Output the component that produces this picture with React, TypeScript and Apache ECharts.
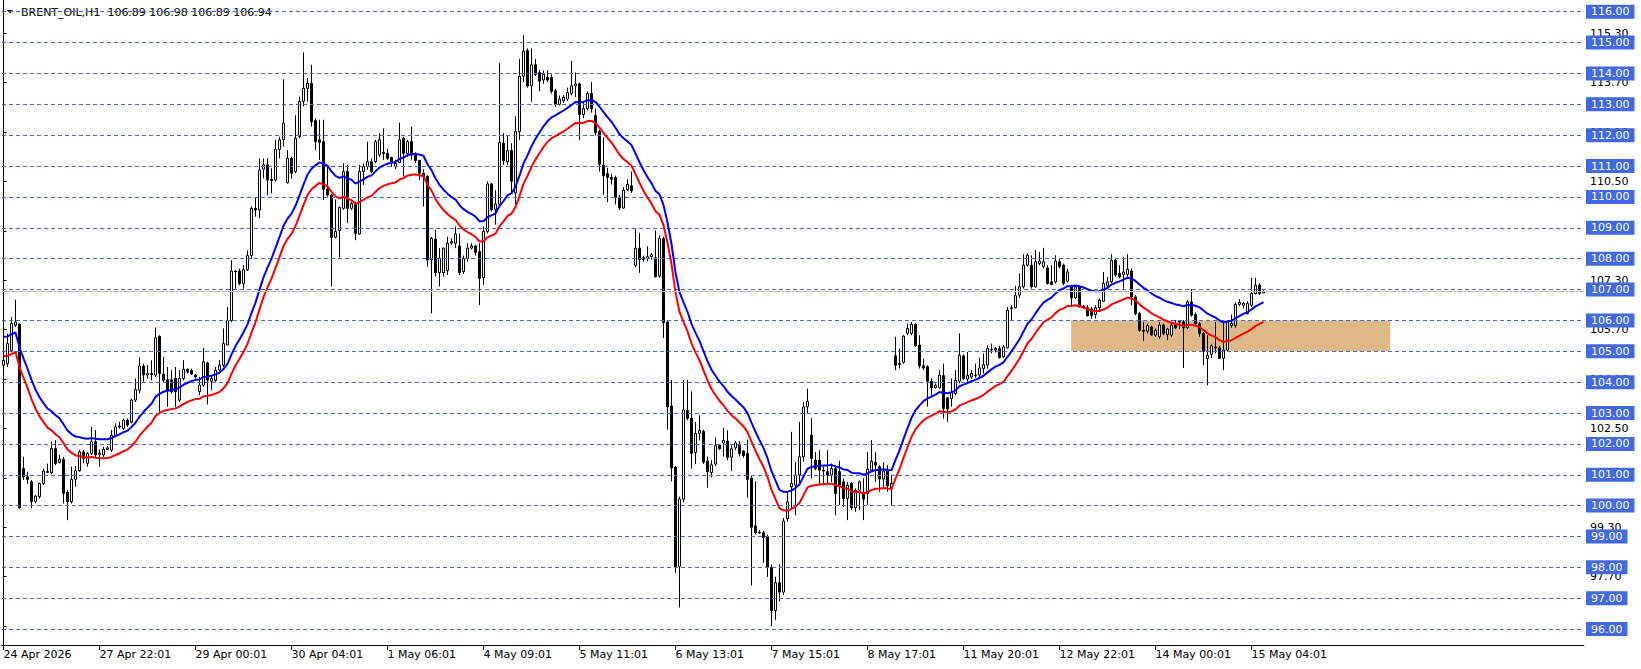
import React, { useEffect, useRef } from "react";
import * as echarts from "echarts";

// ---- data (H1 bars, index 0 = first visible bar) ----
const barOpen = [
  104.55,104.6,105.03,105.84,105.88,101.2,100.93,100.77,100.13,100.29,
  100.72,101.1,101.07,101.85,101.4,101.5,100.43,100.13,100.85,101.13,
  101.74,101.37,101.69,102.07,101.66,101.64,101.82,101.8,102.28,102.55,
  102.5,102.77,102.71,103.42,103.74,104.52,104.23,104.28,104.23,105.48,
  104.26,104.08,104.08,104.12,103.42,104.12,104.42,104.38,104.23,103.69,
  103.9,104.62,104.03,104.06,104.39,104.55,105.2,106.0,107.6,107.6,
  107.19,107.64,108.1,109.63,109.58,110.9,111.04,110.57,110.55,111.54,
  111.85,110.46,111.25,110.82,111.95,113.1,113.52,113.68,112.47,111.85,
  111.79,110.25,110.06,108.69,108.91,109.63,110.82,109.63,109.79,108.8,
  110.82,110.98,111.14,111.14,111.36,111.44,111.41,111.28,110.98,111.11,
  111.9,111.41,111.79,111.36,111.18,110.77,110.66,107.96,108.63,107.55,
  107.55,107.61,108.5,108.5,108.41,107.58,108.01,108.34,108.41,108.23,
  107.39,108.88,110.42,109.6,109.77,111.74,111.14,111.5,110.13,112.12,
  113.91,114.74,113.6,114.28,114.03,113.79,113.87,113.87,113.44,113.0,
  113.11,113.17,113.35,113.6,113.66,112.67,112.86,113.35,112.64,112.12,
  111.03,110.75,110.63,110.63,109.99,109.64,110.23,110.36,107.78,108.34,
  108.03,108.01,108.07,108.03,107.44,108.65,105.95,103.23,101.25,98.03,
  100.21,103.08,102.83,101.72,102.34,102.4,101.44,101.07,101.35,101.96,
  102.03,102.09,101.57,101.87,101.99,101.77,101.69,100.89,99.34,99.14,
  99.12,98.99,98.0,96.6,97.5,97.2,99.58,100.61,100.66,100.99,
  101.58,103.2,102.28,101.47,101.47,101.15,101.1,100.99,101.2,101.1,
  100.77,100.23,100.72,99.93,100.5,100.43,100.39,101.15,101.4,101.26,
  100.86,101.15,100.56,104.85,104.6,104.64,105.58,105.58,105.87,105.2,
  104.53,104.5,104.03,103.82,103.82,104.21,103.49,103.47,103.63,104.03,
  104.85,104.1,104.17,104.21,104.23,104.44,104.55,105.04,105.04,105.09,
  104.82,105.11,106.39,106.41,106.82,107.09,107.79,107.79,107.09,107.84,
  107.74,107.7,107.25,107.25,107.9,107.79,107.27,107.09,106.73,107.09,
  106.47,106.41,106.37,106.19,106.41,106.62,107.12,107.25,107.95,107.52,
  107.49,107.49,107.6,106.76,106.22,105.68,105.65,105.79,105.52,105.47,
  105.85,105.54,105.52,105.87,105.98,105.95,105.76,106.6,106.19,105.9,
  105.58,104.77,104.9,105.11,105.11,104.77,105.04,105.83,105.83,106.52,
  106.49,106.22,106.49,106.87,107.14,106.89,
];
const barHigh = [
  104.8,105.57,106.11,106.67,105.9,101.58,101.1,100.83,100.34,100.74,
  101.2,101.36,102.07,102.12,101.64,101.58,100.5,101.26,101.28,101.8,
  101.8,101.74,102.55,102.45,101.82,101.9,101.93,102.45,102.66,102.71,
  102.82,102.82,103.47,104.12,104.8,104.6,104.55,104.71,105.77,105.52,
  104.82,104.49,104.39,104.49,104.39,104.71,104.44,104.44,104.26,104.17,
  105.11,104.66,104.2,104.49,104.71,105.74,106.44,107.95,107.62,107.68,
  107.79,108.27,109.7,109.96,111.25,111.25,111.25,110.93,111.85,111.95,
  113.81,111.52,111.3,112.65,113.25,114.68,113.85,114.28,112.55,112.5,
  112.5,110.98,110.1,109.92,109.69,111.09,111.04,109.85,109.85,111.04,
  111.09,111.79,111.25,111.85,112.06,112.22,111.57,111.3,111.2,112.41,
  111.95,111.85,112.28,111.44,111.2,110.9,110.7,108.7,108.93,108.34,
  108.36,108.71,108.66,109.04,108.82,108.1,108.5,108.5,108.45,108.5,
  109.04,110.5,110.45,110.22,114.33,112.06,111.99,111.74,112.61,114.47,
  115.24,114.81,114.81,114.47,114.12,114.1,114.1,113.97,113.5,113.29,
  113.3,113.54,114.41,114.03,113.7,113.04,113.42,113.72,112.86,112.18,
  111.93,110.94,110.75,110.69,110.07,110.32,110.57,110.82,108.98,108.84,
  108.1,108.4,108.18,108.92,108.75,108.71,105.99,104.07,101.28,100.29,
  104.07,104.07,103.7,102.71,102.93,102.46,101.59,101.47,102.21,102.0,
  102.52,102.44,101.96,102.1,102.09,101.8,102.14,100.97,100.79,99.2,
  99.18,99.06,98.1,97.7,98.1,99.6,100.45,102.39,101.42,102.71,
  103.36,103.79,102.84,101.74,101.8,101.28,101.8,101.36,101.31,101.45,
  100.88,100.77,100.77,100.56,100.82,100.88,101.74,102.12,101.74,101.31,
  101.4,101.31,101.0,105.47,105.09,105.52,105.9,105.95,105.9,105.52,
  104.77,104.55,104.12,103.96,104.39,104.6,103.52,104.12,104.39,105.58,
  104.9,104.98,104.39,104.6,104.79,104.93,105.2,105.25,105.14,105.18,
  105.2,106.44,106.49,107.12,107.52,108.14,108.17,108.11,108.28,108.22,
  108.35,107.79,107.79,108.11,107.98,107.84,107.68,107.14,107.14,107.14,
  106.5,106.49,106.44,106.49,106.71,107.57,107.41,108.14,108.03,107.79,
  108.06,108.14,107.68,106.82,106.28,105.95,105.9,105.83,105.74,105.95,
  105.9,105.76,105.9,106.01,105.98,106.01,106.66,107.01,106.26,105.95,
  105.63,105.52,105.22,105.95,105.18,105.95,106.01,106.19,106.58,106.69,
  106.6,106.62,107.38,107.38,107.2,106.98,
];
const barLow = [
  103.7,104.49,104.98,105.79,99.9,100.83,100.7,99.91,100.07,100.23,
  100.67,101.05,101.02,101.31,101.37,100.07,99.53,100.07,100.61,101.1,
  101.37,101.26,101.64,101.58,101.26,101.58,101.8,101.74,102.23,102.5,
  102.45,102.55,102.66,103.36,103.63,104.01,104.12,104.06,104.17,103.04,
  104.01,103.2,103.63,103.2,103.36,104.06,104.28,104.23,104.12,103.58,
  103.85,103.28,103.74,104.01,104.28,104.49,105.2,105.95,107.03,107.14,
  107.03,107.6,108.0,109.36,109.31,110.6,110.06,110.12,110.5,111.25,
  111.63,110.43,110.6,110.77,111.9,112.93,113.09,112.28,111.52,111.2,
  109.9,110.01,107.1,108.66,108.04,109.58,109.15,109.58,108.6,108.77,
  110.39,110.88,110.77,111.09,111.3,111.2,111.2,110.98,110.9,111.09,
  110.66,111.3,111.2,111.1,110.55,109.69,107.74,106.23,107.42,107.1,
  107.42,107.47,108.45,108.34,107.47,107.5,107.9,108.3,108.1,106.5,
  107.15,108.82,109.53,109.1,109.74,111.04,111.03,110.1,109.76,111.84,
  113.72,113.54,113.08,113.91,113.42,113.66,113.72,113.35,112.92,112.96,
  113.05,113.11,113.29,113.23,111.84,112.55,112.8,112.73,111.99,110.82,
  110.07,109.83,110.4,109.76,109.58,109.61,110.2,110.13,107.72,107.54,
  107.9,107.91,107.97,107.39,107.39,105.43,102.46,100.79,97.82,96.7,
  100.11,102.77,101.2,101.35,102.11,101.35,100.58,100.91,101.28,101.8,
  101.59,101.47,101.12,101.8,101.59,101.55,100.26,97.41,99.06,99.08,
  98.15,97.69,96.1,96.3,96.9,97.1,99.48,99.91,99.69,100.66,
  101.42,102.98,100.88,101.15,100.66,100.66,100.66,100.77,99.69,100.02,
  99.96,99.53,99.85,99.8,99.85,99.53,100.02,101.12,100.77,100.45,
  100.61,100.45,100.02,104.39,104.44,104.6,105.52,105.52,105.14,104.44,
  104.39,103.2,103.52,103.79,103.79,102.82,102.71,103.2,103.58,103.96,
  104.06,104.01,104.1,104.14,104.17,104.28,104.44,104.93,104.96,104.77,
  104.77,105.09,105.98,106.39,106.73,107.03,107.74,107.03,107.06,107.79,
  107.68,107.16,107.14,107.2,107.68,107.14,107.23,106.44,106.69,106.41,
  106.37,106.12,106.06,106.06,106.33,106.6,107.09,107.2,107.41,107.36,
  107.03,107.41,106.49,106.17,105.63,105.33,105.58,105.5,105.47,105.41,
  105.52,105.36,105.47,105.72,105.72,104.46,105.72,106.12,105.87,105.47,
  104.55,103.9,104.79,104.93,104.75,104.39,104.98,105.76,105.76,106.47,
  106.39,106.19,106.44,106.84,106.82,106.89,
];
const barClose = [
  104.71,105.25,105.9,105.95,99.93,100.93,100.85,100.13,100.31,100.72,
  101.12,101.08,101.85,101.37,101.5,100.4,100.13,100.85,101.13,101.74,
  101.53,101.69,102.07,101.64,101.7,101.82,101.87,102.28,102.55,102.58,
  102.77,102.61,103.42,103.76,104.52,104.23,104.28,104.25,105.44,104.28,
  104.06,103.74,103.69,103.69,104.12,104.42,104.33,104.26,104.17,103.9,
  104.66,104.06,104.12,104.39,104.55,105.25,106.0,107.6,107.57,107.19,
  107.64,108.1,109.63,109.58,110.87,111.04,110.55,110.53,111.54,111.85,
  112.39,111.25,110.77,111.9,113.09,113.52,113.68,112.44,111.79,111.76,
  110.25,110.06,108.69,108.88,109.66,110.82,109.63,109.79,108.82,110.82,
  110.98,111.14,110.82,111.79,111.85,111.4,111.25,111.09,111.09,111.85,
  111.41,111.79,111.36,111.18,110.77,110.66,107.96,108.66,107.55,108.01,
  108.34,108.5,108.55,108.8,107.55,108.01,108.34,108.41,108.2,107.36,
  108.88,110.42,109.58,109.77,111.76,111.18,111.5,110.51,112.12,113.91,
  114.72,113.6,114.28,113.97,113.75,113.97,113.79,113.42,113.0,113.17,
  113.23,113.38,113.6,113.66,112.67,112.86,113.35,112.86,112.08,111.06,
  110.69,110.63,110.57,109.99,109.64,110.22,110.41,110.2,108.34,107.97,
  107.97,108.07,108.13,107.41,108.65,105.93,103.2,101.22,98.03,100.21,
  103.1,102.83,101.69,102.34,102.44,101.41,101.1,101.32,101.94,101.84,
  102.11,101.56,101.84,102.03,101.69,101.62,100.85,99.3,99.12,99.12,
  98.97,98.0,96.6,97.5,97.2,99.5,100.12,100.72,100.99,101.58,
  103.2,103.38,101.53,101.2,101.15,101.12,100.99,101.2,100.39,100.66,
  100.23,100.66,99.93,100.5,100.77,100.21,101.18,101.44,101.31,100.86,
  101.12,100.64,100.72,104.55,104.57,105.49,105.74,105.87,105.18,104.53,
  104.46,104.03,103.82,103.9,104.23,103.15,103.13,103.67,104.06,104.87,
  104.12,104.21,104.28,104.23,104.46,104.57,105.09,105.06,105.09,104.79,
  105.14,106.33,106.41,106.8,107.09,107.79,108.11,107.09,107.9,107.92,
  107.9,107.2,107.16,107.92,107.74,107.2,107.57,106.73,107.09,106.44,
  106.41,106.15,106.15,106.41,106.66,107.2,107.25,107.95,107.47,107.41,
  107.57,107.66,106.76,106.22,105.68,105.65,105.83,105.54,105.68,105.85,
  105.58,105.72,105.85,105.76,105.95,105.76,106.6,106.17,105.9,105.58,
  105.0,104.87,105.18,105.14,104.77,105.04,105.95,105.9,106.52,106.58,
  106.55,106.55,106.87,107.14,106.87,106.94,
];

// time axis labels, every 24 bars
const timeLabelBars = [0, 24, 48, 72, 96, 120, 144, 168, 192, 216, 240, 264, 288, 312];
const timeLabels = [
  "24 Apr 2026", "27 Apr 22:01", "29 Apr 00:01", "30 Apr 04:01", "1 May 06:01",
  "4 May 09:01", "5 May 11:01", "6 May 13:01", "7 May 15:01", "8 May 17:01",
  "11 May 20:01", "12 May 22:01", "14 May 00:01", "15 May 04:01",
];
// native price scale labels
const priceScaleTicks = [96.1, 97.7, 99.3, 100.9, 102.5, 104.1, 105.7, 107.3, 108.9, 110.5, 112.1, 113.7, 115.3];
// horizontal level lines with their blue price labels
const levelPrices = [96, 97, 98, 99, 100, 101, 102, 103, 104, 105, 106, 107, 108, 109, 110, 111, 112, 113, 114, 115, 116];
const bidPrice = 106.94;
// highlighted zone
const zoneStartBar = 266.9;
const zoneEndBar = 346.7;
const zoneLow = 105;
const zoneHigh = 106;
// envelope: EMA of close, upper (blue) and lower (red) bands
const envelopePeriod = 21;
const envelopeDeviationPct = 0.3;
const envelopeSeed = 105.2;

const titleText = "BRENT_OIL,H1  106.89 106.98 106.89 106.94";

// ---- layout ----
const Y_MIN = 95.485;
const Y_MAX = 116.379;
const X_MIN = -0.375;
const X_MAX = 395.125;
const FONT = "'DejaVu Sans', sans-serif";

function ema(values: number[], seed: number, period: number) {
  const k = 2 / (period + 1);
  let prev = seed;
  return values.map((v) => (prev = k * v + (1 - k) * prev));
}

export default function App() {
  const ref = useRef<HTMLDivElement>(null);
  useEffect(() => {
    const n = Math.min(barOpen.length, barHigh.length, barLow.length, barClose.length);
    const candles = [];
    for (let i = 0; i < n; i++) candles.push([i, barOpen[i], barClose[i], barLow[i], barHigh[i]]);
    const center = ema(barClose.slice(0, n), envelopeSeed, envelopePeriod);
    const d = envelopeDeviationPct / 100;
    const upperBand = center.map((v, i) => [i, v * (1 + d)]);
    const lowerBand = center.map((v, i) => [i, v * (1 - d)]);
    const labelByBar = new Map<number, string>(timeLabelBars.map((b, i) => [b, timeLabels[i]]));

    const chart = echarts.init(ref.current!, null, { renderer: "svg" });
    chart.setOption({
      animation: false,
      backgroundColor: "#ffffff",
      grid: { left: 2, top: 0, right: 57, bottom: 24, show: false },
      xAxis: {
        type: "value",
        min: X_MIN,
        max: X_MAX,
        axisLine: { show: true, lineStyle: { color: "#000000", width: 1 } },
        axisTick: { show: true, inside: false, length: 5, lineStyle: { color: "#000000" }, customValues: timeLabelBars },
        axisLabel: {
          customValues: timeLabelBars,
          formatter: (v: number) => labelByBar.get(Math.round(v)) ?? "",
          align: "left",
          margin: 4,
          color: "#000000",
          fontFamily: FONT,
          fontSize: 11,
        },
        splitLine: { show: false },
      },
      yAxis: [
        {
          type: "value",
          position: "right",
          min: Y_MIN,
          max: Y_MAX,
          z: 1,
          axisLine: { show: true, lineStyle: { color: "#000000", width: 1 } },
          axisTick: { show: true, inside: false, length: 3, lineStyle: { color: "#000000" }, customValues: priceScaleTicks },
          axisLabel: { customValues: priceScaleTicks, formatter: (v: number) => v.toFixed(2), color: "#000000", fontFamily: FONT, fontSize: 11, margin: 6 },
          splitLine: { show: false },
        },
        {
          type: "value",
          position: "right",
          min: Y_MIN,
          max: Y_MAX,
          z: 3,
          axisLine: { show: false },
          axisTick: { show: false, customValues: levelPrices },
          axisLabel: {
            customValues: levelPrices,
            formatter: (v: number) => v.toFixed(2),
            color: "#ffffff",
            backgroundColor: "#4169E1",
            padding: [2, 5, 1, 5],
            fontFamily: FONT,
            fontSize: 11,
            margin: 2,
          },
          splitLine: { show: true, lineStyle: { color: "#4169E1", type: [4, 3], width: 1 } },
        },
      ],
      graphic: [
        { type: "polygon", shape: { points: [[7, 10], [13, 10], [10, 13.5]] }, style: { fill: "#000000" } },
        { type: "text", x: 21, y: 12, style: { text: titleText, fill: "#000000", fontFamily: FONT, fontSize: 11, verticalAlign: "middle" } },
      ],
      series: [
        {
          type: "line",
          yAxisIndex: 0,
          data: [[zoneStartBar, zoneLow]],
          showSymbol: false,
          symbol: "none",
          lineStyle: { opacity: 0 },
          silent: true,
          z: 1,
          markArea: {
            silent: true,
            itemStyle: { color: "#DEB887", opacity: 1 },
            data: [[{ xAxis: zoneStartBar, yAxis: zoneHigh }, { xAxis: zoneEndBar, yAxis: zoneLow }]],
          },
        },
        {
          type: "candlestick",
          yAxisIndex: 0,
          data: candles,
          encode: { x: 0, y: [1, 2, 3, 4] },
          barWidth: 2,
          z: 2,
          itemStyle: { color: "#ffffff", color0: "#000000", borderColor: "#000000", borderColor0: "#000000", borderWidth: 1 },
          markLine: {
            silent: true,
            symbol: "none",
            label: { show: false },
            lineStyle: { color: "#C0C0C0", type: "solid", width: 1 },
            data: [{ yAxis: bidPrice }],
          },
        },
        {
          type: "line",
          yAxisIndex: 0,
          data: upperBand,
          showSymbol: false,
          symbol: "none",
          lineStyle: { color: "#0000FF", width: 2 },
          z: 3,
        },
        {
          type: "line",
          yAxisIndex: 0,
          data: lowerBand,
          showSymbol: false,
          symbol: "none",
          lineStyle: { color: "#FF0000", width: 2 },
          z: 3,
        },
      ],
    });
    return () => chart.dispose();
  }, []);
  return <div ref={ref} style={{ position: "fixed", left: 0, top: 0, width: 1641, height: 669, background: "#ffffff" }} />;
}
